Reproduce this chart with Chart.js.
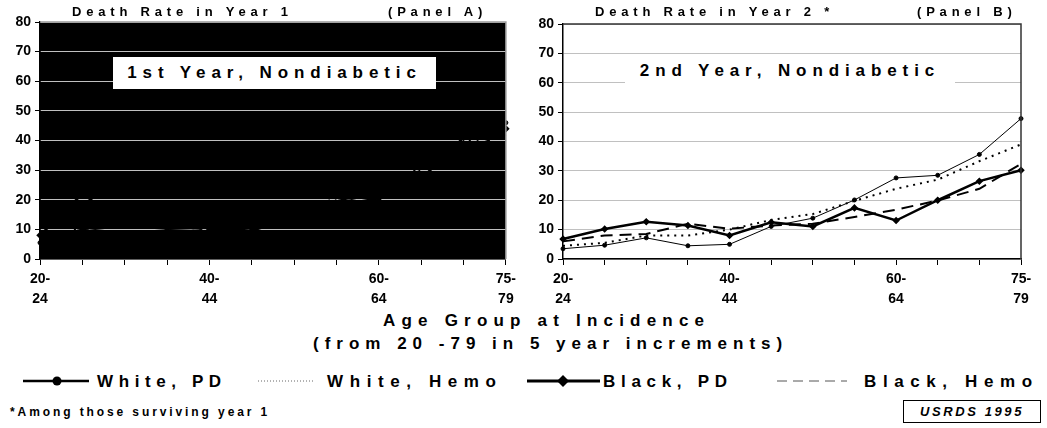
<!DOCTYPE html>
<html>
<head>
<meta charset="utf-8">
<script src="https://cdn.jsdelivr.net/npm/chart.js@4/dist/chart.umd.min.js"></script>
<style>
  body { margin: 0; background: #fff; font-family: "Liberation Sans", Arial, sans-serif; }
  #page { position: relative; width: 1047px; height: 428px; overflow: hidden; }
  .abs { position: absolute; white-space: nowrap; font-weight: bold; color: #000; }
  .panel { position: absolute; top: 0; height: 310px; }
  .ptitle { font-size: 13px; letter-spacing: 4.8px; top: 4px; }
  .box { background: #fff; font-size: 17px; letter-spacing: 5.9px; text-align: center; line-height: 32px; }
  .big { font-size: 17px; letter-spacing: 6.2px; }
  .leg { font-size: 17px; letter-spacing: 6px; top: 372px; }
</style>
</head>
<body>
<div id="page">
  <div class="panel" style="left:0;width:520px"><canvas id="chartA"></canvas></div>
  <div class="panel" style="left:520px;width:527px"><canvas id="chartB"></canvas></div>

  <div class="abs ptitle" style="left:72px">Death Rate in Year 1</div>
  <div class="abs ptitle" style="left:388px">(Panel A)</div>
  <div class="abs ptitle" style="left:595px">Death Rate in Year 2 *</div>
  <div class="abs ptitle" style="left:917px">(Panel B)</div>

  <div class="abs box" style="left:113px;top:57px;width:323px;height:32px">1st Year, Nondiabetic</div>
  <div class="abs box" style="left:625px;top:55px;width:330px;height:32px">2nd Year, Nondiabetic</div>

  <div class="abs big" style="left:383px;top:311px">Age Group at Incidence</div>
  <div class="abs big" style="left:313px;top:334px;letter-spacing:6px">(from 20 -79 in 5 year increments)</div>

  <svg class="abs" style="left:0;top:370px" width="1047" height="22">
    <line x1="23" y1="11" x2="89" y2="11" stroke="#000" stroke-width="2.5"/>
    <circle cx="57" cy="11" r="4.5" fill="#000"/>
    <line x1="258" y1="11" x2="315" y2="11" stroke="#666" stroke-width="1" stroke-dasharray="1,2"/>
    <line x1="527" y1="11" x2="600" y2="11" stroke="#000" stroke-width="3"/>
    <polygon points="563,5 569,11 563,17 557,11" fill="#000"/>
    <line x1="777" y1="11" x2="847" y2="11" stroke="#555" stroke-width="1" stroke-dasharray="10,6"/>
  </svg>
  <div class="abs leg" style="left:97px;letter-spacing:5.6px">White, PD</div>
  <div class="abs leg" style="left:327px;letter-spacing:6.6px">White, Hemo</div>
  <div class="abs leg" style="left:603px;letter-spacing:5.7px">Black, PD</div>
  <div class="abs leg" style="left:864px;letter-spacing:6.6px">Black, Hemo</div>

  <div class="abs" style="left:10px;top:405px;font-size:12px;letter-spacing:2.9px">*Among those surviving year 1</div>
  <div class="abs" style="left:903px;top:400px;width:136px;height:21px;border:1.5px solid #000;font-size:13px;font-style:italic;letter-spacing:2.6px;line-height:21px;text-align:center">USRDS 1995</div>
</div>

<script>
// age groups at incidence, 5-year steps
const ageGroups = ['20-24', '25-29', '30-34', '35-39', '40-44', '45-49', '50-54', '55-59', '60-64', '65-69', '70-74', '75-79'];
const shownTicks = [0, 4, 8, 11];
const yTicks = [0, 10, 20, 30, 40, 50, 60, 70, 80];

// Panel A - year 1 (lines hidden on the black plot area)
const whitePdY1 = [5.5, 9.5, 11, 10, 9.5, 10.5, 15, 19, 22, 28, 37, 46];
const whiteHemoY1 = [7, 10.5, 12, 11, 10, 11, 16, 20.5, 24, 31, 39, 45];
const blackPdY1 = [8, 22, 12, 11, 10.5, 9.5, 14, 18, 20.5, 27, 41, 44];
const blackHemoY1 = [6.5, 10, 11.5, 11, 10, 10.5, 15, 19.5, 23, 30, 37, 42];

// Panel B - year 2
const whitePdY2 = [3.5, 4.7, 7.2, 4.5, 5.0, 11.1, 13.9, 20.1, 27.6, 28.5, 35.6, 47.8];
const whiteHemoY2 = [4.5, 5.5, 8, 8, 10, 13.3, 15.3, 19.8, 23.9, 27, 33.3, 39];
const blackPdY2 = [6.8, 10.2, 12.7, 11.4, 8.0, 12.5, 11.1, 17.4, 13.1, 20.0, 26.5, 30.2];
const blackHemoY2 = [6.0, 8, 8.5, 12, 10.3, 11.4, 12, 14.3, 16.8, 19.9, 23.9, 32.4];

const tickFont = { family: "'Liberation Sans', Arial, sans-serif", size: 14, weight: 'bold', lineHeight: 1.45 };

function makeSets(wpd, wh, bpd, bh) {
  return [
    { label: 'White, PD', data: wpd, borderColor: '#000', backgroundColor: '#000', borderWidth: 1,
      pointRadius: 2, pointStyle: 'circle', tension: 0 },
    { label: 'White, Hemo', data: wh, borderColor: '#000', borderWidth: 2, borderDash: [2, 5],
      pointRadius: 0, tension: 0 },
    { label: 'Black, PD', data: bpd, borderColor: '#000', backgroundColor: '#000', borderWidth: 2.5,
      pointRadius: 2, pointStyle: 'rectRot', tension: 0 },
    { label: 'Black, Hemo', data: bh, borderColor: '#000', borderWidth: 2, borderDash: [12, 7],
      pointRadius: 0, tension: 0 }
  ];
}

function plotFrame(bg, edge) {
  return {
    id: 'frame',
    beforeDraw(chart) {
      if (!bg) return;
      const { ctx, chartArea: a } = chart;
      ctx.save();
      ctx.fillStyle = bg;
      ctx.fillRect(a.left, a.top, a.width, a.height);
      ctx.restore();
    },
    afterDraw(chart) {
      const { ctx, chartArea: a } = chart;
      ctx.save();
      ctx.strokeStyle = edge;
      ctx.lineWidth = 1.5;
      ctx.beginPath();
      ctx.moveTo(a.left, a.top);
      ctx.lineTo(a.right, a.top);
      ctx.lineTo(a.right, a.bottom);
      ctx.stroke();
      ctx.restore();
    }
  };
}

function makeOptions(yWidth, padRight, padTop) {
  return {
    responsive: true,
    maintainAspectRatio: false,
    animation: false,
    layout: { padding: { top: padTop, right: padRight, left: 0, bottom: 0 } },
    plugins: { legend: { display: false }, tooltip: { enabled: false } },
    scales: {
      x: {
        type: 'category',
        offset: false,
        grid: { drawOnChartArea: false, drawTicks: true, tickLength: 6, tickColor: '#000' },
        border: { color: '#000', width: 1.5 },
        ticks: {
          autoSkip: false, maxRotation: 0, padding: 4, color: '#000', font: tickFont,
          callback: (v, i) => shownTicks.includes(i) ? [ageGroups[i].slice(0, 3), ageGroups[i].slice(3)] : ''
        },
        afterFit: s => { s.height = 51; }
      },
      y: {
        min: yTicks[0], max: yTicks[yTicks.length - 1],
        grid: { color: '#c0c0c0', lineWidth: 1, tickLength: 5, tickColor: '#000' },
        border: { color: '#000', width: 1.5 },
        ticks: { stepSize: 10, padding: 4, color: '#000', font: { ...tickFont, lineHeight: 1.2 } },
        afterFit: s => { s.width = yWidth; }
      }
    }
  };
}

new Chart(document.getElementById('chartA'), {
  type: 'line',
  data: { labels: ageGroups, datasets: makeSets(whitePdY1, whiteHemoY1, blackPdY1, blackHemoY1) },
  options: makeOptions(40, 13, 22),
  plugins: [plotFrame('#000', '#999')]
});

new Chart(document.getElementById('chartB'), {
  type: 'line',
  data: { labels: ageGroups, datasets: makeSets(whitePdY2, whiteHemoY2, blackPdY2, blackHemoY2) },
  options: makeOptions(43, 26, 24),
  plugins: [plotFrame(null, '#333')]
});
</script>
</body>
</html>
